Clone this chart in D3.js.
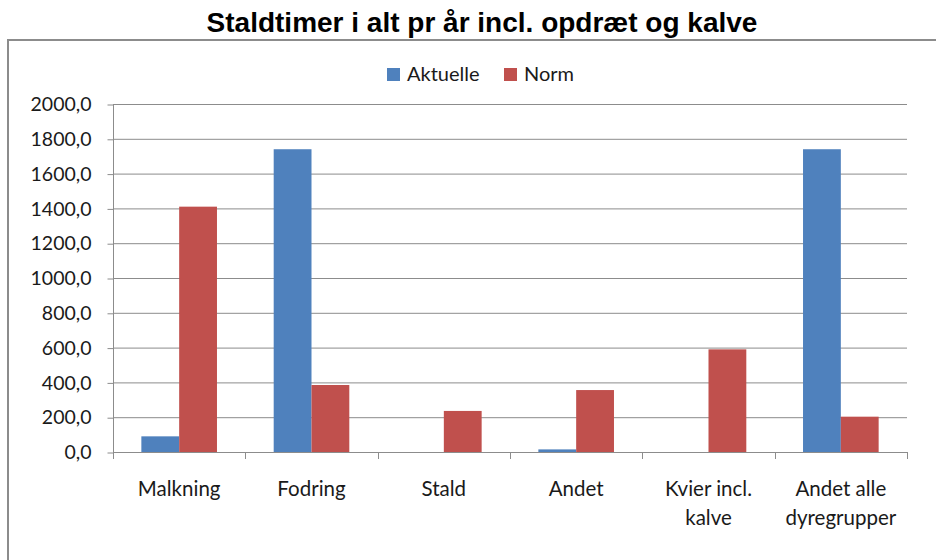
<!DOCTYPE html>
<html>
<head>
<meta charset="utf-8">
<script src="https://cdn.jsdelivr.net/npm/d3@7"></script>
<style>
	body { margin: 0; background: #fff; }
	text { font-family: Lato, "Open Sans", sans-serif; fill: #1a1a1a; }
</style>
</head>
<body>
<svg id="svg" width="936" height="560"></svg>
<script>
// data
const categories = [['Malkning'], ['Fodring'], ['Stald'], ['Andet'], ['Kvier incl.', 'kalve'], ['Andet alle', 'dyregrupper']];
const seriesNames = ['Aktuelle', 'Norm'];
const aktuelle = [90, 1740, 0, 15, 0, 1740];
const norm = [1410, 385, 236, 356, 590, 203];
const yTicks = [0, 200, 400, 600, 800, 1000, 1200, 1400, 1600, 1800, 2000];
const colors = ['#4f81bd', '#c0504d'];

const svg = d3.select('#svg');
const plot = { left: 113, right: 907, top: 104, bottom: 452 };

// title
svg.append('text')
	.attr('x', 482).attr('y', 32)
	.attr('text-anchor', 'middle')
	.style('font-family', '"Liberation Sans", Arial, sans-serif')
	.style('font-weight', 'bold')
	.style('font-size', '28px')
	.style('fill', '#000')
	.text('Staldtimer i alt pr år incl. opdræt og kalve');

// chart frame
svg.append('rect')
	.attr('x', 8).attr('y', 40)
	.attr('width', 940).attr('height', 540)
	.attr('fill', 'none')
	.attr('stroke', '#8c8c8c')
	.attr('stroke-width', 2);

let x0 = d3.scaleBand()
	.domain(d3.range(categories.length))
	.range([plot.left, plot.right])
	.paddingInner(1.5 / 3.5)
	.paddingOuter(0.75 / 3.5);
let step = (plot.right - plot.left) / categories.length;
let x1 = d3.scaleBand().domain([0, 1]).range([0, x0.bandwidth()]);
let y = d3.scaleLinear().domain([0, 2000]).range([plot.bottom, plot.top]);

// gridlines
svg.append('g')
	.selectAll('line')
	.data(yTicks.slice(1))
	.enter().append('line')
	.attr('x1', plot.left).attr('x2', plot.right)
	.attr('y1', d => y(d) + 0.5).attr('y2', d => y(d) + 0.5)
	.attr('stroke', '#8c8c8c');

// y axis
let yAxis = svg.append('g')
	.attr('transform', `translate(${plot.left + 0.5},0.5)`)
	.call(d3.axisLeft(y).tickValues(yTicks).tickSize(6).tickPadding(16)
		.tickFormat(d => d3.format('.1f')(d).replace('.', ',')));
yAxis.select('.domain').attr('stroke', '#8c8c8c').attr('d', `M0,${plot.top}V${plot.bottom}`);
yAxis.selectAll('.tick line').attr('stroke', '#8c8c8c');
yAxis.selectAll('text').style('font-size', '19.5px').style('fill', '#1a1a1a').attr('font-family', null);

// bars
let groups = svg.append('g')
	.selectAll('.cell')
	.data(categories.map((c, i) => ({ i, vals: [aktuelle[i], norm[i]] })))
	.enter().append('g')
	.attr('class', 'cell')
	.attr('transform', d => `translate(${x0(d.i)},0)`);
groups.selectAll('rect')
	.data(d => d.vals.map((v, k) => ({ v, k })))
	.enter().append('rect')
	.attr('x', d => x1(d.k))
	.attr('width', x1.bandwidth())
	.attr('y', d => y(d.v))
	.attr('height', d => y(0) - y(d.v))
	.attr('fill', d => colors[d.k]);

// x axis
let xAxis = svg.append('g');
xAxis.append('line')
	.attr('x1', plot.left).attr('x2', plot.right)
	.attr('y1', plot.bottom + 0.5).attr('y2', plot.bottom + 0.5)
	.attr('stroke', '#8c8c8c');
xAxis.selectAll('.xt')
	.data(d3.range(categories.length + 1))
	.enter().append('line')
	.attr('x1', i => Math.round(plot.left + i * step) + 0.5)
	.attr('x2', i => Math.round(plot.left + i * step) + 0.5)
	.attr('y1', plot.bottom).attr('y2', plot.bottom + 7)
	.attr('stroke', '#8c8c8c');
let labels = xAxis.selectAll('.xl')
	.data(categories)
	.enter().append('text')
	.attr('text-anchor', 'middle')
	.style('font-size', '20.5px')
	.attr('transform', (d, i) => `translate(${plot.left + (i + 0.5) * step},496)`);
labels.selectAll('tspan')
	.data(d => d)
	.enter().append('tspan')
	.attr('x', 0)
	.attr('dy', (d, k) => k === 0 ? 0 : 29)
	.text(d => d);

// legend
let legend = svg.append('g');
let lx = [387, 504];
seriesNames.forEach((name, k) => {
	legend.append('rect')
		.attr('x', lx[k]).attr('y', 68)
		.attr('width', 13).attr('height', 13)
		.attr('fill', colors[k]);
	legend.append('text')
		.attr('x', lx[k] + 20).attr('y', 81)
		.style('font-size', '20px')
		.text(name);
});
</script>
</body>
</html>
